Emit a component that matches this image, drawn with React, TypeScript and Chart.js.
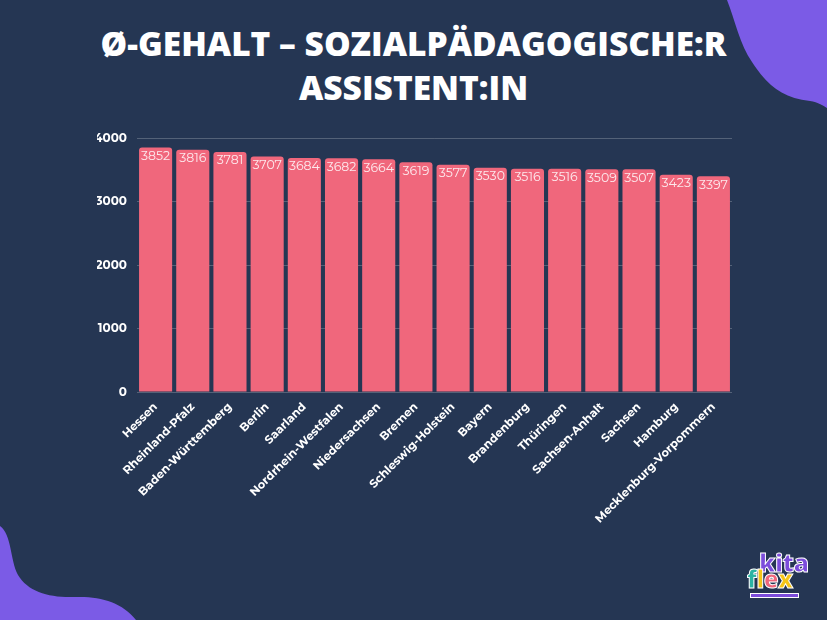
import React, { useEffect, useRef } from "react";
import { Chart, registerables } from "chart.js";

Chart.register(...registerables);

const titleLines = ["Ø-GEHALT – SOZIALPÄDAGOGISCHE:R", "ASSISTENT:IN"];
const categories = [
  "Hessen",
  "Rheinland-Pfalz",
  "Baden-Württemberg",
  "Berlin",
  "Saarland",
  "Nordrhein-Westfalen",
  "Niedersachsen",
  "Bremen",
  "Schleswig-Holstein",
  "Bayern",
  "Brandenburg",
  "Thüringen",
  "Sachsen-Anhalt",
  "Sachsen",
  "Hamburg",
  "Mecklenburg-Vorpommern",
];
const salaries = [3852, 3816, 3781, 3707, 3684, 3682, 3664, 3619, 3577, 3530, 3516, 3516, 3509, 3507, 3423, 3397];
const yTicks = [0, 1000, 2000, 3000, 4000];

const BG = "#253653";
const BAR = "#f0677c";
const PURPLE = "#7b5be6";
const FONT = "Montserrat, 'Open Sans', sans-serif";

const valueLabels = {
  id: "valueLabels",
  afterDatasetsDraw(chart: any) {
    const { ctx } = chart;
    const meta = chart.getDatasetMeta(0);
    ctx.save();
    ctx.font = `400 12.5px ${FONT}`;
    ctx.fillStyle = "#fde8ec";
    ctx.textAlign = "center";
    ctx.textBaseline = "top";
    meta.data.forEach((bar: any, i: number) => {
      ctx.fillText(String(salaries[i]), bar.x, bar.y + 2.5);
    });
    ctx.restore();
  },
};

export default function App() {
  const ref = useRef<HTMLCanvasElement>(null);
  useEffect(() => {
    if (!ref.current) return;
    const chart = new Chart(ref.current, {
      type: "bar",
      data: {
        labels: categories,
        datasets: [
          {
            data: salaries,
            backgroundColor: BAR,
            borderRadius: { topLeft: 3, topRight: 3, bottomLeft: 0, bottomRight: 0 },
            borderSkipped: "bottom",
            barPercentage: 0.89,
            categoryPercentage: 1,
          },
        ],
      },
      options: {
        animation: false,
        responsive: false,
        layout: { padding: { left: 97, right: 95, top: 138, bottom: 0 } },
        plugins: { legend: { display: false }, tooltip: { enabled: false } },
        scales: {
          x: {
            grid: { display: false },
            border: { display: false },
            ticks: {
              color: "#ffffff",
              font: { family: FONT, size: 11.5, weight: "bold" },
              minRotation: 45,
              maxRotation: 45,
              padding: 0,
            },
            afterFit: (s: any) => {
              s.height = 228;
            },
          },
          y: {
            min: 0,
            max: 4000,
            afterBuildTicks: (s: any) => {
              s.ticks = yTicks.map((v) => ({ value: v }));
            },
            grid: { color: "rgba(255,255,255,0.22)", drawTicks: false },
            border: { display: false },
            ticks: {
              color: "#ffffff",
              font: { family: FONT, size: 12, weight: "bold" },
              padding: 10,
              callback: (v: any) => String(v),
            },
            afterFit: (s: any) => {
              s.width = 40;
            },
          },
        },
      },
      plugins: [valueLabels],
    });
    return () => chart.destroy();
  }, []);

  return (
    <div
      style={{
        position: "fixed",
        left: 0,
        top: 0,
        width: 827,
        height: 620,
        background: BG,
        overflow: "hidden",
        fontFamily: FONT,
      }}
    >
      <svg width={827} height={620} style={{ position: "absolute", left: 0, top: 0 }}>
        <path
          d="M727 0 C735 20 740 45 752 62 C765 82 780 98 810 101 C818 102 824 106 827 108 L827 0 Z"
          fill={PURPLE}
        />
        <path
          d="M0 526 C12 535 10 560 18 575 C28 592 50 598 75 597 C100 596 122 602 136 620 L0 620 Z"
          fill={PURPLE}
        />
      </svg>
      <div
        style={{
          position: "absolute",
          left: 0,
          top: 21,
          width: 827,
          textAlign: "center",
          color: "#ffffff",
          fontFamily: "'Open Sans', sans-serif",
          fontWeight: 800,
          fontSize: 33.5,
          lineHeight: "44px",
          letterSpacing: 0,
        }}
      >
        {titleLines.map((t) => (
          <div key={t}>{t}</div>
        ))}
      </div>
      <canvas ref={ref} width={827} height={620} style={{ position: "absolute", left: 0, top: 0 }} />
      <div
        style={{
          position: "absolute",
          left: 747,
          top: 547,
          width: 70,
          height: 60,
          fontFamily: "'Open Sans', sans-serif",
          fontWeight: 800,
          lineHeight: 1,
        }}
      >
        <div
          style={{
            position: "absolute",
            left: 12,
            top: 3,
            fontSize: 25,
            color: "#7c4ddb",
            WebkitTextStroke: "1px #ffffff",
            letterSpacing: -0.5,
          }}
        >
          kita
        </div>
        <div
          style={{
            position: "absolute",
            left: 0,
            top: 20,
            fontSize: 24,
            WebkitTextStroke: "1px #ffffff",
            letterSpacing: -0.5,
          }}
        >
          <span style={{ color: "#2bb3a3" }}>f</span>
          <span style={{ color: "#f5c518" }}>l</span>
          <span style={{ color: "#f0677c" }}>e</span>
          <span style={{ color: "#f5c518" }}>x</span>
        </div>
        <div
          style={{
            position: "absolute",
            left: 3,
            top: 46,
            width: 47,
            height: 3,
            background: "#7c4ddb",
            border: "1px solid #ffffff",
          }}
        />
      </div>
    </div>
  );
}
